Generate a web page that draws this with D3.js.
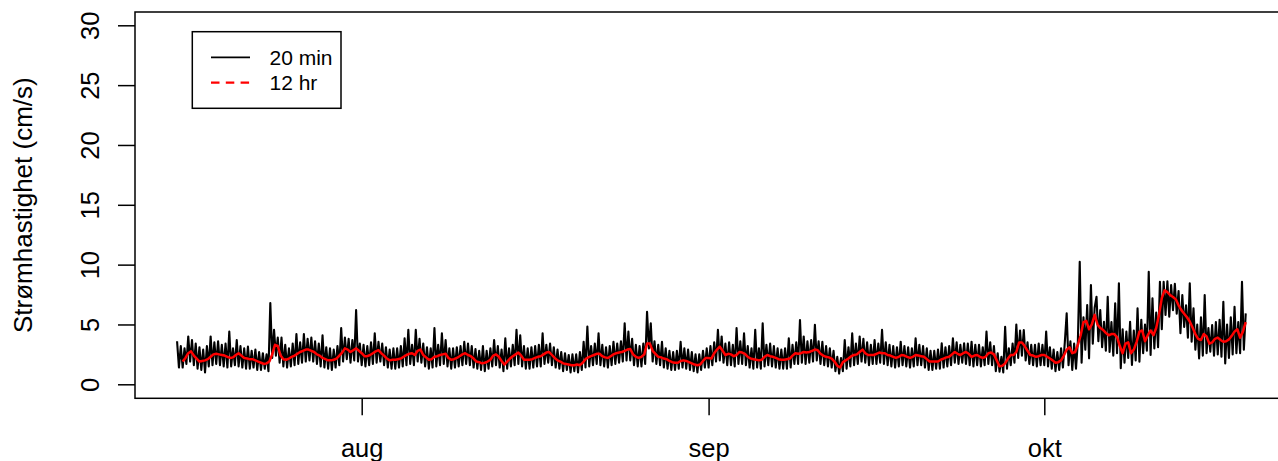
<!DOCTYPE html>
<html><head><meta charset="utf-8">
<script src="https://cdn.jsdelivr.net/npm/d3@7"></script>
<style>
body{margin:0;background:#fff;}
svg{display:block;font-family:"Liberation Sans",Arial,Helvetica,sans-serif;}
</style>
</head><body>
<svg id="chart" width="1278" height="461"></svg>
<script>
// ---------------- data ----------------
const monthTickDates = ["2021-08-01T00:00:00Z", "2021-09-01T00:00:00Z", "2021-10-01T00:00:00Z"];
const monthLabels = ["aug", "sep", "okt"];
const yTicks = [0, 5, 10, 15, 20, 25, 30];
const yTitle = "Strømhastighet (cm/s)";
const legendLabels = ["20 min", "12 hr"];

// 20 min series (every 4 hours)
const rawStart = "2021-07-15T12:00:00Z";
const rawStepHours = 4;
const rawValues = [
  3.6,1.4,3.2,
  1.4,3.0,1.7,4.0,1.9,3.7,
  1.6,3.4,1.3,3.1,1.2,2.9,
  1.0,3.2,1.5,4.0,1.6,3.5,
  1.7,3.6,1.6,3.3,1.5,3.4,
  1.4,4.4,1.5,3.0,1.6,3.7,
  1.5,3.2,1.4,3.0,1.3,3.15,
  1.3,2.8,1.4,2.9,1.2,2.7,
  1.2,2.6,1.3,2.5,1.1,6.8,
  2.2,4.55,2.4,3.9,1.8,3.9,
  1.5,3.3,1.4,3.0,1.5,3.4,
  1.6,4.2,1.7,3.5,1.8,4.2,
  1.9,3.8,2.0,3.9,1.9,3.6,
  1.7,3.4,1.5,4.1,1.4,3.1,
  1.3,3.0,1.2,2.9,1.4,3.2,
  1.6,4.7,1.9,3.9,2.1,3.8,
  1.8,3.7,2.0,6.2,1.9,3.4,
  1.6,3.3,1.5,3.2,1.6,3.5,
  1.7,4.26,1.8,3.55,1.9,3.4,
  1.6,3.1,1.4,2.9,1.3,3.0,
  1.3,3.0,1.4,3.2,1.5,3.85,
  1.6,4.55,1.7,3.3,1.6,4.55,
  1.9,3.8,1.8,3.4,1.5,3.1,
  1.3,3.0,1.4,4.7,1.5,3.3,
  1.6,4.26,1.7,3.7,1.5,3.0,
  1.3,3.0,1.4,3.1,1.5,3.2,
  1.6,3.55,1.7,3.4,1.6,3.2,
  1.4,2.95,1.3,2.8,1.2,3.2,
  1.1,2.8,1.3,3.0,1.5,3.7,
  1.6,3.2,1.4,2.9,1.1,3.85,
  1.3,3.0,1.5,3.3,1.6,4.55,
  1.7,4.1,1.5,3.2,1.3,3.0,
  1.3,3.1,1.4,3.2,1.5,3.3,
  1.5,4.26,1.7,3.3,1.8,3.4,
  1.6,3.1,1.4,2.9,1.3,2.7,
  1.1,2.6,1.2,2.45,1.0,2.5,
  1.1,2.5,1.0,2.7,1.2,3.55,
  1.4,4.83,1.5,3.2,1.6,3.4,
  1.7,4.26,1.6,3.3,1.5,3.1,
  1.4,3.2,1.6,3.55,1.7,3.4,
  1.8,3.6,1.9,5.09,2.0,4.4,
  2.0,3.8,1.6,3.3,1.5,3.2,
  1.5,3.4,1.7,6.06,3.0,5.09,
  1.9,3.6,1.7,3.3,1.6,3.55,
  1.4,3.0,1.3,2.8,1.2,2.7,
  1.2,2.8,1.3,3.55,1.4,3.0,
  1.3,2.9,1.2,2.7,1.1,2.5,
  1.0,2.5,1.2,2.8,1.4,3.0,
  1.4,3.2,1.6,3.5,1.9,4.55,
  2.0,4.0,1.8,3.4,1.6,3.5,
  1.6,3.3,1.5,4.7,1.7,3.6,
  1.7,4.26,1.6,3.2,1.4,3.0,
  1.3,4.55,1.4,3.0,1.3,5.09,
  1.5,3.3,1.6,3.4,1.5,3.2,
  1.4,3.0,1.3,2.9,1.3,3.0,
  1.3,3.85,1.4,3.3,1.7,3.5,
  1.7,5.37,1.8,4.0,1.7,3.6,
  1.8,3.7,1.9,4.97,2.0,3.6,
  1.7,3.55,1.6,3.2,1.5,3.0,
  1.4,2.8,1.1,2.3,0.9,2.2,
  1.1,3.7,1.3,3.1,1.5,4.26,
  1.6,3.4,1.7,4.0,1.9,3.8,
  1.8,3.5,1.6,3.3,1.7,3.7,
  1.7,3.4,1.8,4.55,1.7,3.5,
  1.6,3.3,1.5,3.2,1.4,3.1,
  1.5,3.56,1.6,3.2,1.5,3.1,
  1.4,3.0,1.5,3.84,1.6,3.3,
  1.6,3.2,1.4,3.0,1.2,2.8,
  1.2,2.8,1.3,2.9,1.3,3.42,
  1.4,3.1,1.5,3.2,1.6,3.84,
  1.8,3.5,1.7,3.3,1.8,3.42,
  1.7,3.4,1.6,3.56,1.5,3.3,
  1.6,3.3,1.5,3.1,1.6,4.4,
  1.7,3.5,1.6,3.2,1.1,2.6,
  1.05,2.3,1.0,4.8,1.3,3.0,
  1.6,3.4,1.8,5.0,2.2,4.5,
  2.4,4.54,2.0,3.5,1.7,3.3,
  1.6,3.3,1.5,3.4,1.6,3.3,
  1.6,4.4,1.5,3.1,1.3,2.9,
  1.1,2.7,1.2,3.0,1.4,3.5,
  5.93,1.6,3.6,1.2,3.4,1.3,
  3.6,10.24,1.8,5.6,2.9,6.62,
  2.17,8.3,3.4,6.4,7.32,3.6,
  6.2,3.1,5.23,2.8,7.32,2.7,
  5.2,2.4,6.77,2.6,8.44,1.34,
  4.6,1.8,4.4,2.2,5.23,1.62,
  4.5,2.0,6.35,1.89,5.4,2.6,
  5.0,2.8,9.41,2.45,7.18,3.0,
  6.0,3.1,8.57,4.6,8.57,5.8,
  8.6,5.65,8.3,6.2,8.4,5.9,
  7.8,4.26,7.46,4.8,6.6,3.9,
  8.44,3.56,6.35,2.9,5.0,2.17,
  5.6,2.4,7.46,2.6,4.7,2.72,
  4.95,2.4,5.2,2.5,5.4,2.3,
  6.9,1.75,5.0,2.2,5.6,2.5,
  6.48,2.6,5.2,2.59,8.57,2.9,
  5.93
];

// 12 hr running mean (every 6 hours)
const smoothStart = "2021-07-16T00:00:00Z";
const smoothStepHours = 6;
const smoothValues = [
  1.9,2.2,2.6,2.75,
  2.4,2.15,1.9,1.95,
  2.0,2.1,2.3,2.5,
  2.55,2.5,2.45,2.4,
  2.3,2.2,2.25,2.45,
  2.6,2.4,2.2,2.15,
  2.1,2.1,2.0,1.9,
  1.8,1.7,1.75,1.9,
  2.5,3.3,3.2,2.4,
  2.1,2.05,2.15,2.3,
  2.4,2.55,2.7,2.8,
  2.9,2.9,2.8,2.7,
  2.5,2.4,2.2,2.1,
  2.0,2.0,2.05,2.15,
  2.4,2.65,3.0,2.9,
  2.7,2.85,3.0,2.8,
  2.6,2.35,2.35,2.45,
  2.6,2.75,2.85,2.6,
  2.4,2.15,2.0,2.05,
  2.05,2.1,2.15,2.3,
  2.45,2.55,2.6,2.45,
  2.8,2.9,2.45,2.25,
  2.05,2.1,2.3,2.35,
  2.45,2.5,2.55,2.2,
  2.05,2.1,2.2,2.35,
  2.5,2.6,2.45,2.35,
  2.15,1.9,1.85,1.75,
  1.8,1.9,2.05,2.4,
  2.5,2.3,1.95,1.65,
  1.9,2.15,2.35,2.5,
  2.65,2.4,2.05,2.05,
  2.05,2.1,2.2,2.3,
  2.35,2.5,2.65,2.7,
  2.45,2.2,2.0,1.9,
  1.75,1.7,1.65,1.6,
  1.6,1.65,1.6,1.8,
  2.1,2.25,2.35,2.45,
  2.55,2.55,2.35,2.25,
  2.2,2.35,2.5,2.6,
  2.65,2.7,2.8,2.9,
  2.95,2.5,2.3,2.2,
  2.3,2.5,3.4,3.4,
  2.8,2.55,2.3,2.25,
  2.15,2.1,1.95,1.85,
  1.8,1.8,1.95,2.0,
  1.95,1.85,1.75,1.65,
  1.6,1.65,1.95,2.2,
  2.2,2.15,2.6,2.9,
  3.15,2.8,2.45,2.55,
  2.5,2.35,2.45,2.7,
  2.65,2.55,2.3,2.15,
  2.1,2.05,2.0,2.05,
  2.3,2.45,2.35,2.3,
  2.2,2.1,2.05,2.05,
  2.1,2.15,2.4,2.6,
  2.55,2.6,2.7,2.65,
  2.7,2.8,2.9,2.85,
  2.55,2.4,2.3,2.25,
  2.15,1.9,1.55,1.4,
  1.85,2.0,2.15,2.35,
  2.45,2.5,2.7,2.9,
  2.6,2.45,2.45,2.45,
  2.55,2.65,2.6,2.6,
  2.45,2.4,2.3,2.2,
  2.3,2.45,2.4,2.3,
  2.2,2.3,2.45,2.4,
  2.35,2.3,2.1,1.9,
  1.9,1.9,1.9,2.05,
  2.15,2.25,2.3,2.5,
  2.7,2.55,2.45,2.6,
  2.7,2.55,2.3,2.4,
  2.45,2.3,2.2,2.3,
  2.6,2.65,2.5,2.0,
  1.5,1.55,1.75,2.15,
  2.45,2.45,2.7,3.5,
  3.5,3.2,2.8,2.45,
  2.4,2.3,2.35,2.45,
  2.45,2.3,2.15,2.0,
  1.8,1.85,2.0,2.4,
  2.9,3.1,2.6,2.7,
  3.3,4.1,5.2,5.3,
  4.6,5.0,5.8,5.0,
  4.7,4.55,4.3,4.1,
  4.2,4.2,3.95,3.2,
  2.6,3.4,3.5,2.6,
  2.9,3.55,4.4,4.5,
  3.6,4.1,4.5,4.1,
  4.7,5.8,7.2,7.85,
  7.7,7.45,7.3,7.1,
  6.6,6.2,5.9,5.6,
  5.25,4.75,4.2,3.8,
  3.7,4.2,4.0,3.4,
  3.5,3.8,3.9,3.7,
  3.55,3.6,3.75,4.05,
  4.4,4.6,3.9,4.4,
  5.2
];

// ---------------- drawing ----------------
const W = 1278, H = 461;
const plot = {left: 135, top: 12, right: 1300, bottom: 398.3};
const HOUR = 3600e3;

const raw = rawValues.map((v, i) => ({t: new Date(Date.parse(rawStart) + i * rawStepHours * HOUR), v}));
const smooth = smoothValues.map((v, i) => ({t: new Date(Date.parse(smoothStart) + i * smoothStepHours * HOUR), v}));
const tickDates = monthTickDates.map(s => new Date(s));

const x = d3.scaleUtc()
  .domain([tickDates[0], tickDates[2]])
  .range([361.7, 1044.3]);
const y = d3.scaleLinear().domain([0, 30]).range([384.3, 25.3]);

const svg = d3.select("#chart");
svg.append("rect").attr("width", W).attr("height", H).attr("fill", "#fff");

const line = d3.line().x(d => x(d.t)).y(d => y(d.v));

svg.append("path").datum(raw)
  .attr("d", line)
  .attr("fill", "none").attr("stroke", "#000")
  .attr("stroke-width", 2.1).attr("stroke-linejoin", "round");

svg.append("path").datum(smooth)
  .attr("d", line)
  .attr("fill", "none").attr("stroke", "#ff0000")
  .attr("stroke-width", 2.5).attr("stroke-linejoin", "round");

// frame
svg.append("rect")
  .attr("x", plot.left).attr("y", plot.top)
  .attr("width", plot.right - plot.left).attr("height", plot.bottom - plot.top)
  .attr("fill", "none").attr("stroke", "#000").attr("stroke-width", 1.5);

const FS = 25.5;

// x axis
const gx = svg.append("g").attr("transform", `translate(0,${plot.bottom})`)
  .call(d3.axisBottom(x).tickValues(tickDates).tickFormat((d, i) => monthLabels[i]).tickSize(17));
gx.select(".domain").remove();
gx.attr("font-size", null).attr("font-family", null);
gx.selectAll(".tick line").attr("stroke", "#000").attr("stroke-width", 1.5);
gx.selectAll(".tick text")
  .attr("y", 457.5 - plot.bottom).attr("dy", null)
  .attr("fill", "#000").style("font-size", FS + "px");

// y axis
const gy = svg.append("g").attr("transform", `translate(${plot.left},0)`)
  .call(d3.axisLeft(y).tickValues(yTicks).tickSize(17));
gy.select(".domain").remove();
gy.attr("font-size", null).attr("font-family", null);
gy.selectAll(".tick line").attr("stroke", "#000").attr("stroke-width", 1.5);
gy.selectAll(".tick text")
  .attr("x", null).attr("dy", null)
  .attr("transform", `translate(${98.5 - plot.left},0) rotate(-90)`)
  .attr("text-anchor", "middle")
  .attr("fill", "#000").style("font-size", FS + "px");

// y title
svg.append("text")
  .attr("transform", `translate(32,${(plot.top + plot.bottom) / 2}) rotate(-90)`)
  .attr("text-anchor", "middle")
  .style("font-size", "26px").attr("fill", "#000")
  .text(yTitle);

// legend
const lg = svg.append("g");
lg.append("rect").attr("x", 192.3).attr("y", 31.7).attr("width", 148.7).attr("height", 76.6)
  .attr("fill", "#fff").attr("stroke", "#000").attr("stroke-width", 1.5);
const legendStyles = [
  {stroke: "#000", dash: null, w: 1.8},
  {stroke: "#ff0000", dash: "8.5,6.3", w: 2.2}
];
legendLabels.forEach((lab, i) => {
  const ly = 57.3 + i * 25.4;
  lg.append("line").attr("x1", 211).attr("x2", 250).attr("y1", ly).attr("y2", ly)
    .attr("stroke", legendStyles[i].stroke).attr("stroke-width", legendStyles[i].w)
    .attr("stroke-dasharray", legendStyles[i].dash);
  lg.append("text").attr("x", 269.5).attr("y", ly + 7.7)
    .style("font-size", "21px").attr("fill", "#000").text(lab);
});
</script>
</body></html>
